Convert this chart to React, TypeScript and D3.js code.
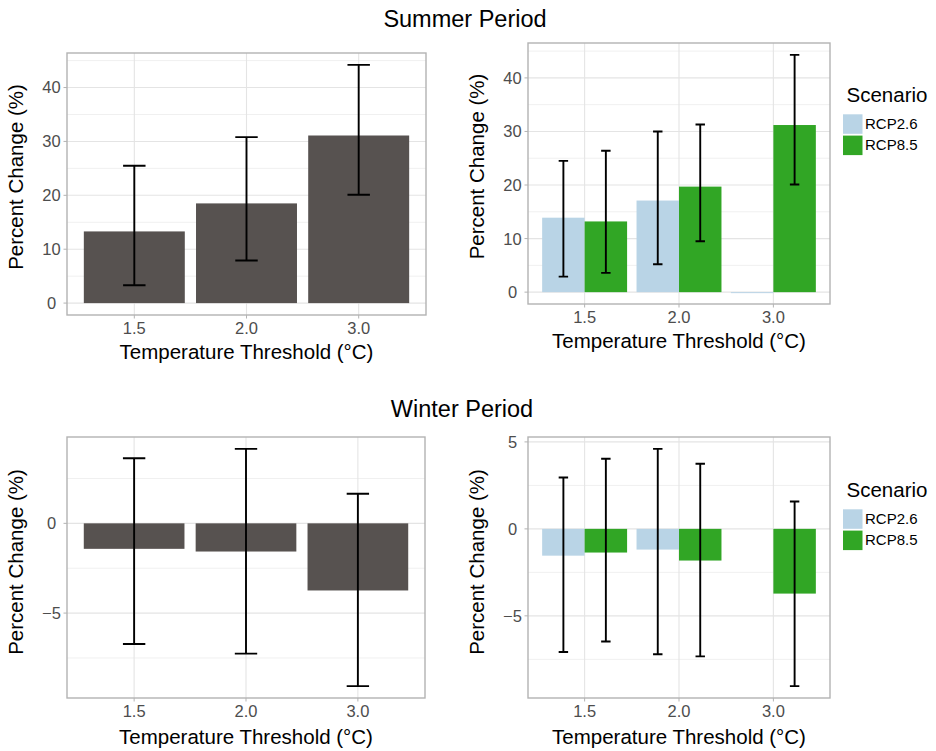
import { useEffect, useRef } from "react";
import * as d3 from "d3";

const thresholds = ["1.5", "2.0", "3.0"];
const scenarios = ["RCP2.6", "RCP8.5"];
const scenarioColors = ["#b9d4e6", "#31a625"];
const pooledColor = "#575250";

// summer period, scenarios pooled
const summerMean = [13.3, 18.5, 31.1];
const summerLow = [3.3, 7.9, 20.1];
const summerHigh = [25.5, 30.8, 44.2];

// summer period, by scenario
const summerRcp26 = [13.9, 17.1, 0];
const summerRcp26Low = [2.9, 5.2, null];
const summerRcp26High = [24.5, 30.0, null];
const summerRcp85 = [13.2, 19.7, 31.2];
const summerRcp85Low = [3.6, 9.5, 20.1];
const summerRcp85High = [26.4, 31.3, 44.3];

// winter period, scenarios pooled
const winterMean = [-1.42, -1.57, -3.74];
const winterLow = [-6.72, -7.26, -9.07];
const winterHigh = [3.63, 4.15, 1.65];

// winter period, by scenario
const winterRcp26 = [-1.54, -1.19, null];
const winterRcp26Low = [-7.08, -7.21, null];
const winterRcp26High = [2.95, 4.6, null];
const winterRcp85 = [-1.36, -1.82, -3.72];
const winterRcp85Low = [-6.47, -7.33, -9.04];
const winterRcp85High = [4.03, 3.74, 1.57];

const summerStep = 10;
const winterStep = 5;

type Val = number | null;
interface Series {
  name: string;
  values: Val[];
  lows: Val[];
  highs: Val[];
  color: string;
}
interface PanelCfg {
  x0: number;
  x1: number;
  y0: number;
  y1: number;
  step: number;
  series: Series[];
  xTitleY: number;
  yTitleShift: number;
  legendTop?: number;
}

const FONT = "'Liberation Sans', Arial, Helvetica, sans-serif";

function drawPanel(svg: d3.Selection<SVGSVGElement, unknown, null, undefined>, cfg: PanelCfg) {
  const g = svg.append("g");
  const { x0, x1, y0, y1, step, series } = cfg;

  const x = d3
    .scaleBand()
    .domain(thresholds)
    .range([x0, x1])
    .paddingInner(0.1)
    .paddingOuter(0.15);
  const sub = d3
    .scaleBand()
    .domain(series.map((s) => s.name))
    .range([0, x.bandwidth()]);

  // data extent, ggplot-style 5% expansion
  const all: number[] = [0];
  series.forEach((s) => {
    [...s.values, ...s.lows, ...s.highs].forEach((v) => {
      if (v !== null) all.push(v);
    });
  });
  const [lo, hi] = d3.extent(all) as [number, number];
  const pad = (hi - lo) * 0.05;
  const y = d3.scaleLinear().domain([lo - pad, hi + pad]).range([y1, y0]);
  const [dLo, dHi] = y.domain();

  const major = d3.range(Math.ceil(dLo / step) * step, dHi, step);
  const minor = d3
    .range(Math.ceil((dLo - step / 2) / step) * step + step / 2, dHi, step)
    .filter((v) => v > dLo);

  // grid
  g.selectAll(".minor")
    .data(minor)
    .enter()
    .append("line")
    .attr("x1", x0)
    .attr("x2", x1)
    .attr("y1", (d) => y(d))
    .attr("y2", (d) => y(d))
    .attr("stroke", "#f0f0f0")
    .attr("stroke-width", 1);
  g.selectAll(".major")
    .data(major)
    .enter()
    .append("line")
    .attr("x1", x0)
    .attr("x2", x1)
    .attr("y1", (d) => y(d))
    .attr("y2", (d) => y(d))
    .attr("stroke", "#e4e4e4")
    .attr("stroke-width", 1.1);
  g.selectAll(".vgrid")
    .data(thresholds)
    .enter()
    .append("line")
    .attr("x1", (d) => x(d)! + x.bandwidth() / 2)
    .attr("x2", (d) => x(d)! + x.bandwidth() / 2)
    .attr("y1", y0)
    .attr("y2", y1)
    .attr("stroke", "#e4e4e4")
    .attr("stroke-width", 1.1);

  // bars
  series.forEach((s) => {
    const bx = (i: number) => x(thresholds[i])! + sub(s.name)!;
    s.values.forEach((v, i) => {
      if (v === null) return;
      const top = Math.min(y(v), y(0));
      const h = Math.max(Math.abs(y(v) - y(0)), 1);
      g.append("rect")
        .attr("x", bx(i))
        .attr("y", top)
        .attr("width", sub.bandwidth())
        .attr("height", h)
        .attr("fill", s.color);
    });
  });

  // error bars
  const capHalf = (x.step() * 0.2) / series.length / 2;
  series.forEach((s) => {
    s.values.forEach((_, i) => {
      const l = s.lows[i];
      const u = s.highs[i];
      if (l === null || u === null) return;
      const cx = x(thresholds[i])! + sub(s.name)! + sub.bandwidth() / 2;
      const path = d3.path();
      path.moveTo(cx, y(u));
      path.lineTo(cx, y(l));
      path.moveTo(cx - capHalf, y(u));
      path.lineTo(cx + capHalf, y(u));
      path.moveTo(cx - capHalf, y(l));
      path.lineTo(cx + capHalf, y(l));
      g.append("path")
        .attr("d", path.toString())
        .attr("fill", "none")
        .attr("stroke", "#000")
        .attr("stroke-width", 1.9);
    });
  });

  // border
  g.append("rect")
    .attr("x", x0)
    .attr("y", y0)
    .attr("width", x1 - x0)
    .attr("height", y1 - y0)
    .attr("fill", "none")
    .attr("stroke", "#b3b3b3")
    .attr("stroke-width", 1.4);

  // y axis ticks + labels
  major.forEach((v) => {
    g.append("line")
      .attr("x1", x0 - 3.5)
      .attr("x2", x0)
      .attr("y1", y(v))
      .attr("y2", y(v))
      .attr("stroke", "#b3b3b3")
      .attr("stroke-width", 1);
    g.append("text")
      .attr("x", x0 - 15.5)
      .attr("y", y(v))
      .attr("dy", "0.36em")
      .attr("text-anchor", "middle")
      .attr("font-size", 16.5)
      .attr("fill", "#4d4d4d")
      .text(v < 0 ? `\u2212${Math.abs(v)}` : `${v}`);
  });

  // x axis ticks + labels
  thresholds.forEach((t) => {
    const cx = x(t)! + x.bandwidth() / 2;
    g.append("line")
      .attr("x1", cx)
      .attr("x2", cx)
      .attr("y1", y1)
      .attr("y2", y1 + 3.5)
      .attr("stroke", "#b3b3b3")
      .attr("stroke-width", 1);
    g.append("text")
      .attr("x", cx)
      .attr("y", y1 + 18.5)
      .attr("text-anchor", "middle")
      .attr("font-size", 16.5)
      .attr("fill", "#4d4d4d")
      .text(t);
  });

  // axis titles
  g.append("text")
    .attr("x", (x0 + x1) / 2)
    .attr("y", cfg.xTitleY)
    .attr("text-anchor", "middle")
    .attr("font-size", 20.5)
    .attr("fill", "#000")
    .text("Temperature Threshold (\u00b0C)");
  const ty = (y0 + y1) / 2 + cfg.yTitleShift;
  g.append("text")
    .attr("transform", `translate(${x0 - 44},${ty}) rotate(-90)`)
    .attr("text-anchor", "middle")
    .attr("font-size", 20.5)
    .attr("fill", "#000")
    .text("Percent Change (%)");

  // legend
  if (cfg.legendTop !== undefined) {
    const lt = cfg.legendTop;
    g.append("text")
      .attr("x", 846.5)
      .attr("y", lt)
      .attr("font-size", 20.5)
      .attr("fill", "#000")
      .text("Scenario");
    series.forEach((s, i) => {
      const ky = lt + 12.8 + i * 21.3;
      g.append("rect")
        .attr("x", 843)
        .attr("y", ky)
        .attr("width", 19.5)
        .attr("height", 19.5)
        .attr("fill", s.color);
      g.append("text")
        .attr("x", 865)
        .attr("y", ky + 9)
        .attr("dy", "0.36em")
        .attr("font-size", 15)
        .attr("fill", "#000")
        .text(s.name);
    });
  }
}

export default function App() {
  const svgRef = useRef<SVGSVGElement | null>(null);

  useEffect(() => {
    if (!svgRef.current) return;
    const svg = d3.select(svgRef.current);
    svg.selectAll("*").remove();
    svg.attr("font-family", FONT);

    svg.append("rect").attr("width", 936).attr("height", 751).attr("fill", "#fff");

    svg.append("text")
      .attr("x", 465)
      .attr("y", 26.5)
      .attr("text-anchor", "middle")
      .attr("font-size", 23.5)
      .text("Summer Period");
    svg.append("text")
      .attr("x", 462)
      .attr("y", 416.5)
      .attr("text-anchor", "middle")
      .attr("font-size", 23.5)
      .text("Winter Period");

    drawPanel(svg, {
      x0: 67, x1: 426, y0: 53, y1: 315, step: summerStep,
      xTitleY: 358.5, yTitleShift: -7,
      series: [{ name: "all", values: summerMean, lows: summerLow, highs: summerHigh, color: pooledColor }],
    });
    drawPanel(svg, {
      x0: 528, x1: 830, y0: 43, y1: 304, step: summerStep,
      xTitleY: 348, yTitleShift: -7, legendTop: 101.5,
      series: [
        { name: scenarios[0], values: summerRcp26, lows: summerRcp26Low, highs: summerRcp26High, color: scenarioColors[0] },
        { name: scenarios[1], values: summerRcp85, lows: summerRcp85Low, highs: summerRcp85High, color: scenarioColors[1] },
      ],
    });
    drawPanel(svg, {
      x0: 67, x1: 425, y0: 437, y1: 698, step: winterStep,
      xTitleY: 744.3, yTitleShift: -5.5,
      series: [{ name: "all", values: winterMean, lows: winterLow, highs: winterHigh, color: pooledColor }],
    });
    drawPanel(svg, {
      x0: 528, x1: 830, y0: 437, y1: 698, step: winterStep,
      xTitleY: 743.5, yTitleShift: -5.5, legendTop: 496.5,
      series: [
        { name: scenarios[0], values: winterRcp26, lows: winterRcp26Low, highs: winterRcp26High, color: scenarioColors[0] },
        { name: scenarios[1], values: winterRcp85, lows: winterRcp85Low, highs: winterRcp85High, color: scenarioColors[1] },
      ],
    });
  }, []);

  return (
    <svg
      ref={svgRef}
      width={936}
      height={751}
      style={{ position: "absolute", left: 0, top: 0, display: "block" }}
    />
  );
}
